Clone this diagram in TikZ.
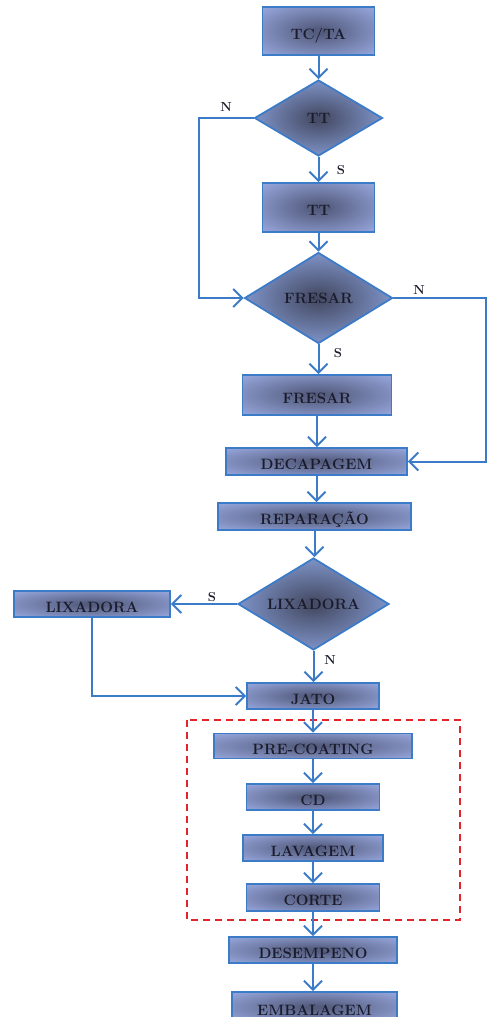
\documentclass[tikz,border=0pt]{standalone}
\usepackage{fontspec}
\usetikzlibrary{shapes.geometric,arrows.meta}
\definecolor{shin}{HTML}{545C7E}
\definecolor{shout}{HTML}{9DAEE6}
\definecolor{dshin}{HTML}{464C66}
\definecolor{dshout}{HTML}{8AA2DC}
\definecolor{edgeblue}{HTML}{3B7BC8}
\definecolor{redline}{HTML}{E3242B}
\definecolor{txt}{HTML}{1A1C2C}
\pgfdeclareradialshading{boxshade}{\pgfpoint{0bp}{0bp}}{color(0bp)=(shin); color(3bp)=(shin); color(38bp)=(shout); color(50bp)=(shout)}
\pgfdeclareradialshading{diashade}{\pgfpoint{0bp}{0bp}}{color(0bp)=(dshin); color(2bp)=(dshin); color(30bp)=(dshout); color(50bp)=(dshout)}
\newcommand{\boxfont}{\fontsize{15pt}{17pt}\selectfont\bfseries}
\newcommand{\labfont}{\fontsize{13pt}{15pt}\selectfont\bfseries}
\tikzset{
  proc/.style={rectangle, draw=edgeblue, line width=1.8pt, shading=boxshade, inner sep=0pt,
    text height=16pt, text depth=0pt, text=txt, font=\boxfont},
  dec/.style={diamond, draw=edgeblue, line width=1.8pt, shading=diashade, inner sep=0pt,
    text=txt, font=\boxfont},
  arr/.style={draw=edgeblue, line width=2pt, -{Straight Barb[length=9pt,width=18pt]}},
  lab/.style={text=txt, font=\labfont, inner sep=0pt}
}
\begin{document}
\begin{tikzpicture}[x=1pt,y=-1pt]
\useasboundingbox (0,0) rectangle (488,1017);
\clip (0,0) rectangle (488,1017);
\draw[redline, line width=1.8pt, dash pattern=on 7pt off 5pt] (187,720) rectangle (460,920);

\node[proc, minimum width=112pt, minimum height=48pt] (tcta) at (318.5,31) {TC/TA};
\node[dec, minimum width=128pt, minimum height=76pt] (tt1) at (318.5,118) {\makebox[0pt]{TT}};
\node[proc, minimum width=112pt, minimum height=49pt] (tt2) at (318.5,207.5) {TT};
\node[dec, minimum width=148pt, minimum height=91pt] (fr1) at (318.5,298) {\makebox[0pt]{FRESAR}};
\node[proc, minimum width=149pt, minimum height=40pt] (fr2) at (317,395) {FRESAR};
\node[proc, minimum width=181pt, minimum height=27pt] (dcp) at (316.5,461.5) {DECAPAGEM};
\node[proc, minimum width=193pt, minimum height=27pt] (rep) at (314.5,516.5) {REPARAÇÃO};
\node[dec, minimum width=151pt, minimum height=92pt] (lx1) at (313.5,604) {\makebox[0pt]{LIXADORA}};
\node[proc, minimum width=156pt, minimum height=26pt] (lx2) at (92,604) {LIXADORA};
\node[proc, minimum width=132pt, minimum height=26pt] (jato) at (313,696) {JATO};
\node[proc, minimum width=198pt, minimum height=25pt] (pre) at (313,746) {PRE-COATING};
\node[proc, minimum width=133pt, minimum height=26pt] (cd) at (313,797) {CD};
\node[proc, minimum width=140pt, minimum height=26pt] (lav) at (313,848) {LAVAGEM};
\node[proc, minimum width=133pt, minimum height=27pt] (corte) at (313,897.5) {CORTE};
\node[proc, minimum width=168pt, minimum height=26pt] (des) at (313,950) {DESEMPENO};
\node[proc, minimum width=165pt, minimum height=30pt] (emb) at (314.5,1007) {EMBALAGEM};

\draw[arr] (tcta.south) -- (tcta.south |- tt1.north);
\draw[arr] (tt1.south) -- (tt1.south |- tt2.north);
\draw[arr] (tt2.south) -- (tt2.south |- fr1.north);
\draw[arr] (fr1.south) -- (fr1.south |- fr2.north);
\draw[arr] (fr2.south) -- (fr2.south |- dcp.north);
\draw[arr] (dcp.south) -- (dcp.south |- rep.north);
\draw[arr] (rep.south) -- (rep.south |- lx1.north);
\draw[arr] (tt1.west) -- ++(-54.5,0) |- (fr1.west);
\draw[arr] (fr1.east) -- ++(93,0) |- (dcp.east);
\draw[arr] (lx1.west) -- (lx2.east);
\draw[arr] (lx1.south) -- (lx1.south |- jato.north);
\draw[arr] (lx2.south) |- (jato.west);
\draw[arr] (jato.south) -- (jato.south |- pre.north);
\draw[arr] (pre.south) -- (pre.south |- cd.north);
\draw[arr] (cd.south) -- (cd.south |- lav.north);
\draw[arr] (lav.south) -- (lav.south |- corte.north);
\draw[arr] (corte.south) -- (corte.south |- des.north);
\draw[arr] (des.south) -- (des.south |- emb.north);

\node[lab] (n1) at (226,107) {N};
\node[lab] (s1) at (341,170) {S};
\node[lab] (n2) at (419,290) {N};
\node[lab] (s2) at (338,353) {S};
\node[lab] (s3) at (212,597) {S};
\node[lab] (n3) at (330,660) {N};
\end{tikzpicture}
\end{document}
